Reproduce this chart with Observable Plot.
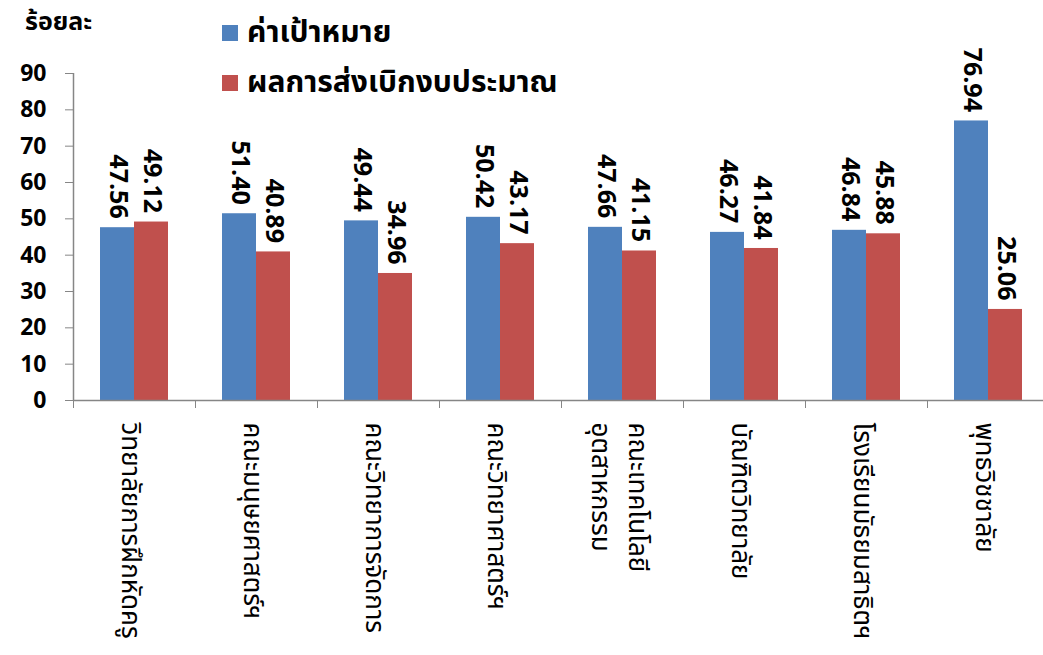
<!DOCTYPE html>
<html>
<head>
<meta charset="utf-8">
<script src="https://cdn.jsdelivr.net/npm/d3@7"></script>
<script src="https://cdn.jsdelivr.net/npm/@observablehq/plot@0.6"></script>
<style>
  html, body { margin: 0; padding: 0; background: #fff; }
  #wrap { position: relative; width: 1043px; height: 655px; overflow: hidden;
    font-family: Tahoma, "Noto Sans Thai", "Noto Sans", "DejaVu Sans", sans-serif; }
  .unit { position: absolute; left: 25px; top: 3px; font-size: 25px; font-weight: bold; }
  .leg { position: absolute; left: 222px; font-size: 30px; font-weight: bold; display: flex; align-items: center; white-space: nowrap; line-height: 1; }
  .leg .sw { width: 16px; height: 16px; margin-right: 9px; display: inline-block; }
</style>
</head>
<body>
<div id="wrap"></div>
<script>
const categories = [
  "วิทยาลัยการฝึกหัดครู",
  "คณะมนุษยศาสตร์ฯ",
  "คณะวิทยาการจัดการ",
  "คณะวิทยาศาสตร์ฯ",
  "คณะเทคโนโลยี\nอุตสาหกรรม",
  "บัณฑิตวิทยาลัย",
  "โรงเรียนมัธยมสาธิตฯ",
  "พุทธวิชชาลัย"
];
const seriesNames = ["ค่าเป้าหมาย", "ผลการส่งเบิกงบประมาณ"];
const targetValues = [47.56, 51.40, 49.44, 50.42, 47.66, 46.27, 46.84, 76.94];
const actualValues = [49.12, 40.89, 34.96, 43.17, 41.15, 41.84, 45.88, 25.06];
const yTicks = [0, 10, 20, 30, 40, 50, 60, 70, 80, 90];
const unitLabel = "ร้อยละ";
const colors = ["#4F81BD", "#C0504D"];

const rows = [];
categories.forEach((c, i) => {
  rows.push({category: c, series: seriesNames[0], value: targetValues[i]});
  rows.push({category: c, series: seriesNames[1], value: actualValues[i]});
});

const W = 1043, H = 655;
const mL = 73, mR = -6, mT = 73, mB = 255;
const step = (W - mL - mR) / categories.length;
const barW = 34;
const outer = (step - 2 * barW) / 2;
const axisColor = "#868686";
const font = 'Tahoma, "Noto Sans Thai", "Noto Sans", "DejaVu Sans", sans-serif';

const chart = Plot.plot({
  width: W,
  height: H,
  marginLeft: mL,
  marginRight: mR,
  marginTop: mT,
  marginBottom: mB,
  style: {fontFamily: font, background: "transparent", overflow: "visible"},
  x: {domain: categories, padding: 0, axis: null},
  y: {domain: [0, 90], axis: null},
  color: {domain: seriesNames, range: colors},
  marks: [
    Plot.barY(rows.filter(d => d.series === seriesNames[0]), {
      x: "category", y: "value", fill: colors[0],
      insetLeft: outer, insetRight: outer + barW
    }),
    Plot.barY(rows.filter(d => d.series === seriesNames[1]), {
      x: "category", y: "value", fill: colors[1],
      insetLeft: outer + barW, insetRight: outer
    }),
    Plot.ruleY([0], {stroke: axisColor, strokeWidth: 1.5}),
    Plot.ruleX([categories[0]], {x: d => d, y1: 0, y2: 90, dx: -step / 2, stroke: axisColor, strokeWidth: 1.5}),
    Plot.axisY({ticks: yTicks, tickSize: 8, tickPadding: 19, stroke: axisColor, fill: "#000",
      fontSize: 23, fontWeight: "bold", label: null}),
    Plot.axisX({ticks: categories, tickSize: 8, tickFormat: null, dx: -step / 2, stroke: axisColor, label: null}),
    Plot.text(categories, {
      x: d => d, text: d => d, frameAnchor: "bottom", dy: 22,
      rotate: 90, textAnchor: "start", lineAnchor: "middle", lineHeight: 1.45,
      fontSize: 26, fill: "#000"
    }),
    Plot.text(rows.filter(d => d.series === seriesNames[0]), {
      x: "category", y: "value", text: d => d.value.toFixed(2),
      dx: -(step / 2 - outer - barW / 2), dy: -9,
      rotate: 90, textAnchor: "end", lineAnchor: "middle",
      fontSize: 25, fontWeight: "bold", fill: "#000"
    }),
    Plot.text(rows.filter(d => d.series === seriesNames[1]), {
      x: "category", y: "value", text: d => d.value.toFixed(2),
      dx: (step / 2 - outer - barW / 2), dy: -9,
      rotate: 90, textAnchor: "end", lineAnchor: "middle",
      fontSize: 25, fontWeight: "bold", fill: "#000"
    })
  ]
});

const wrap = document.getElementById("wrap");
wrap.appendChild(chart);

const u = document.createElement("div");
u.className = "unit";
u.textContent = unitLabel;
wrap.appendChild(u);

seriesNames.forEach((name, i) => {
  const leg = document.createElement("div");
  leg.className = "leg";
  leg.style.top = (18 + i * 50) + "px";
  const sw = document.createElement("span");
  sw.className = "sw";
  sw.style.background = colors[i];
  leg.appendChild(sw);
  leg.appendChild(document.createTextNode(name));
  wrap.appendChild(leg);
});
</script>
</body>
</html>
